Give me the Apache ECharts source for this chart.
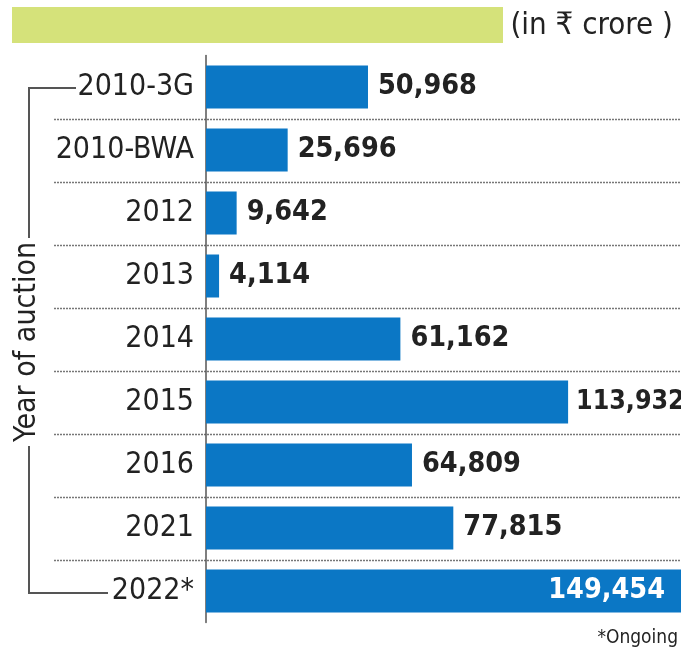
<!DOCTYPE html>
<html>
<head>
<meta charset="utf-8">
<script src="https://cdn.jsdelivr.net/npm/echarts@6/dist/echarts.min.js"></script>
<style>
html,body{margin:0;padding:0;background:#fff;}
#c{width:681px;height:654px;}
</style>
</head>
<body>
<div id="c"></div>
<script>
const categories = ['2010-3G', '2010-BWA', '2012', '2013', '2014', '2015', '2016', '2021', '2022*'];
const values = [50968, 25696, 9642, 4114, 61162, 113932, 64809, 77815, 149454];
const unitText = '(in ₹ crore )';
const axisTitle = 'Year of auction';
const footnote = '*Ongoing';

const FONT = '"DejaVu Sans Condensed", "DejaVu Sans", sans-serif';
const fmt = v => v.toLocaleString('en-US');

const chart = echarts.init(document.getElementById('c'));

const seriesData = values.map((v, i) => {
  const item = { value: v };
  if (i === values.length - 1) {
    item.label = { position: 'insideRight', color: '#ffffff', distance: 16 };
  } else if (v > 100000) {
    item.label = { fontSize: 26.5, distance: 8 };
  }
  return item;
});

chart.setOption({
  animation: false,
  backgroundColor: '#ffffff',
  grid: { left: 206, right: 0, top: 55.5, bottom: 31.5 },
  xAxis: { type: 'value', min: 0, max: 149454, show: false },
  yAxis: {
    type: 'category',
    inverse: true,
    data: categories,
    axisTick: { show: false },
    axisLine: { show: true, lineStyle: { color: '#555555', width: 1.5 } },
    axisLabel: { fontFamily: FONT, fontSize: 30, color: '#222222', margin: 12 },
    splitLine: { show: false }
  },
  series: [{
    type: 'bar',
    data: seriesData,
    barWidth: 43,
    itemStyle: { color: '#0b77c5' },
    label: {
      show: true,
      position: 'right',
      distance: 10,
      fontFamily: FONT,
      fontWeight: 'bold',
      fontSize: 28.5,
      color: '#222222',
      formatter: p => fmt(p.value)
    }
  }]
});

function addDecor() {
  const g = [];
  const ys = categories.map((c, i) => chart.convertToPixel({ yAxisIndex: 0 }, c));
  for (let i = 0; i < ys.length - 1; i++) {
    const y = Math.round((ys[i] + ys[i + 1]) / 2) + 0.5;
    g.push({
      type: 'line', z: 0,
      shape: { x1: 54, y1: y, x2: 681, y2: y },
      style: { stroke: '#777777', lineWidth: 1.3, lineDash: [2, 1] }
    });
  }
  const yTop = ys[0] + 1, yBot = ys[ys.length - 1] + 2;
  g.push({
    type: 'polyline',
    shape: { points: [[76, yTop], [29, yTop], [29, 238]] },
    style: { stroke: '#555555', lineWidth: 2, fill: null }
  });
  g.push({
    type: 'polyline',
    shape: { points: [[29, 446], [29, yBot], [108, yBot]] },
    style: { stroke: '#555555', lineWidth: 2, fill: null }
  });
  g.push({
    type: 'text', x: 27, y: 342, rotation: Math.PI / 2,
    style: { text: axisTitle, fontFamily: FONT, fontSize: 30, fill: '#222222', align: 'center', verticalAlign: 'middle' }
  });
  g.push({
    type: 'rect', shape: { x: 12, y: 7, width: 491, height: 36 },
    style: { fill: '#d5e27a' }
  });
  g.push({
    type: 'text', x: 673, y: 26,
    style: { text: unitText, fontFamily: FONT, fontSize: 31, fill: '#222222', align: 'right', verticalAlign: 'middle' }
  });
  g.push({
    type: 'text', x: 678, y: 638,
    style: { text: footnote, fontFamily: FONT, fontSize: 19, fill: '#222222', align: 'right', verticalAlign: 'middle' }
  });
  chart.setOption({ graphic: g });
}
addDecor();
</script>
</body>
</html>
